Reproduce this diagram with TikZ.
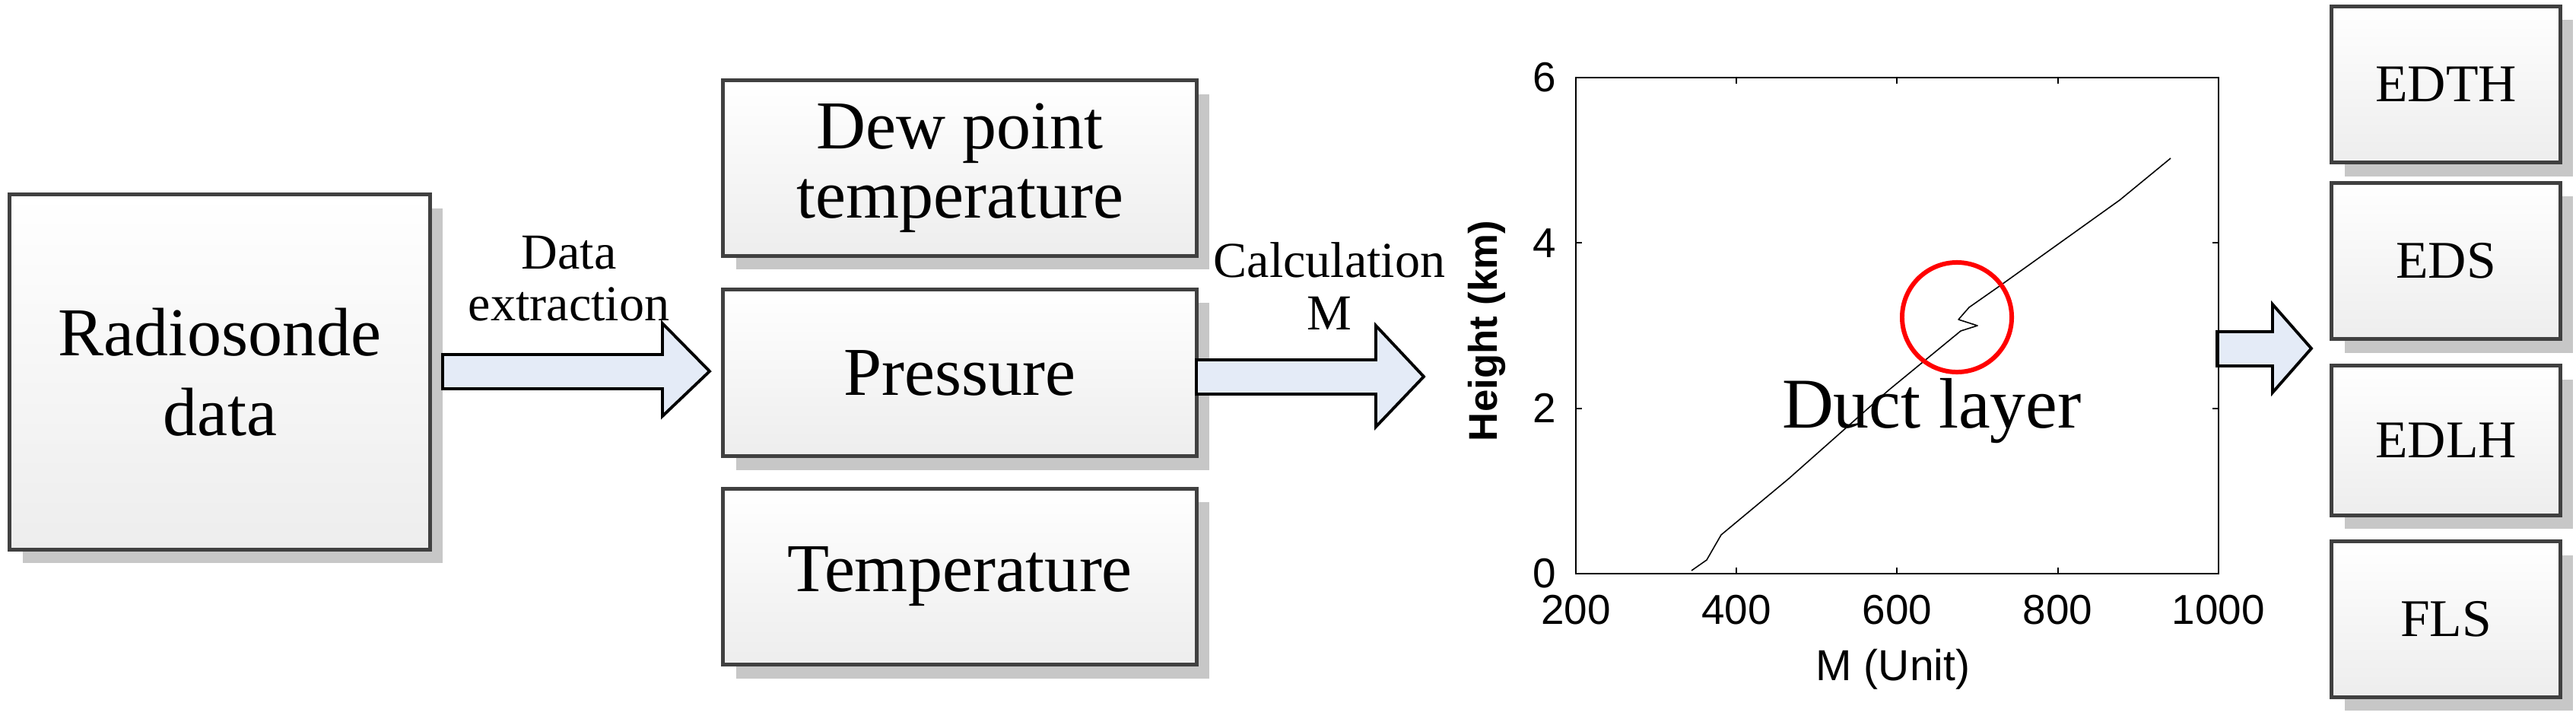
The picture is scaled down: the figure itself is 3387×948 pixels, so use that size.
\documentclass[tikz,border=0pt]{standalone}
\usepackage{fontspec}
\setmainfont{Liberation Serif}
\newfontfamily\axfont{Liberation Sans}
\usetikzlibrary{shadows}
\definecolor{arrfill}{HTML}{E4EBF7}
\newcommand{\fsz}[2]{\fontsize{#1}{#2}\selectfont}
\begin{document}
\begin{tikzpicture}[x=0.01cm,y=-0.01cm,
  box/.style={draw=black!75,line width=1.4pt,top color=white,bottom color=black!7,
    inner sep=0pt,outer sep=0pt,align=center,
    drop shadow={shadow xshift=0.17cm,shadow yshift=-0.18cm,fill=black!22,opacity=1}},
  big/.style={font=\fsz{25.6pt}{26pt}},
  small/.style={font=\fsz{19.8pt}{21pt}},
  arr/.style={draw=black,line width=1.1pt,fill=arrfill,line join=miter},
  tick/.style={font=\axfont\fontsize{15.6pt}{17pt}\selectfont}]
\useasboundingbox (0,0) rectangle (3387,948);
% left boxes
\node[box,big,minimum width=5.52cm,minimum height=4.66cm] (rs) at (289,489) {Radiosonde\\[4pt]data};
\node[box,big,minimum width=6.22cm,minimum height=2.30cm] (dew) at (1262,221) {Dew point\\temperature};
\node[box,big,minimum width=6.22cm,minimum height=2.19cm] (pr) at (1262,490) {Pressure};
\node[box,big,minimum width=6.22cm,minimum height=2.31cm] (tp) at (1262,758) {Temperature};
% right boxes
\node[box,small,minimum width=3.00cm,minimum height=2.05cm] (edth) at (3216,111) {EDTH};
\node[box,small,minimum width=3.00cm,minimum height=2.05cm] (eds) at (3216,343) {EDS};
\node[box,small,minimum width=3.00cm,minimum height=1.96cm] (edlh) at (3216,579) {EDLH};
\node[box,small,minimum width=3.00cm,minimum height=2.04cm] (fls) at (3216,814) {FLS};
% arrows
\draw[arr] (582,466) -- (871,466) -- (871,425) -- (933,488) -- (871,547) -- (871,511) -- (582,511) -- cycle;
\draw[arr] (1573,473) -- (1809,473) -- (1809,428) -- (1872,495) -- (1809,561) -- (1809,518) -- (1573,518) -- cycle;
\draw[arr] (2915,436) -- (2988,436) -- (2988,400) -- (3039,458) -- (2988,516) -- (2988,481) -- (2915,481) -- cycle;
% arrow labels
\node[font=\fsz{18.8pt}{19.5pt},align=center] (lab1) at (748,366) {Data\\extraction};
\node[font=\fsz{18.8pt}{19.5pt},align=center] (lab2) at (1748,376) {Calculation\\M};
% plot
\draw[line width=0.8pt] (2072,102) rectangle (2917,754);
\foreach \m in {400,600,800}{
  \pgfmathsetmacro\xx{2072+(\m-200)*1.056}
  \draw[line width=0.6pt] (\xx,754) -- (\xx,746) (\xx,102) -- (\xx,110);}
\foreach \h in {2,4}{
  \pgfmathsetmacro\yy{754-\h*108.7}
  \draw[line width=0.6pt] (2072,\yy) -- (2080,\yy) (2917,\yy) -- (2909,\yy);}
\foreach \m in {200,400,600,800,1000}{
  \pgfmathsetmacro\xx{2072+(\m-200)*1.056}
  \node[tick] at (\xx,802) {\m};}
\foreach \h in {0,2,4,6}{
  \pgfmathsetmacro\yy{754-\h*108.7}
  \node[tick,anchor=east] at (2058,\yy) {\h};}
\node[rotate=90,font=\axfont\bfseries\fontsize{15pt}{17pt}\selectfont] (ylab) at (1955,435) {Height (km)};
\node[font=\axfont\fontsize{16.2pt}{18pt}\selectfont] (xlab) at (2489,880) {M (Unit)};
\draw[line width=0.45pt,line join=round] (2224,750) -- (2244,736) -- (2263,703) -- (2352,629) -- (2483,513) -- (2578,435) -- (2600,428) -- (2575,420) -- (2589,404) -- (2629,376) -- (2787,263) -- (2854,208);
\node[draw=red,line width=1.7pt,circle,minimum size=1.44cm,inner sep=0pt] (duct) at (2573,417) {};
\node[font=\fsz{26.7pt}{28pt}] (dl) at (2540,540) {Duct layer};
\end{tikzpicture}
\end{document}
